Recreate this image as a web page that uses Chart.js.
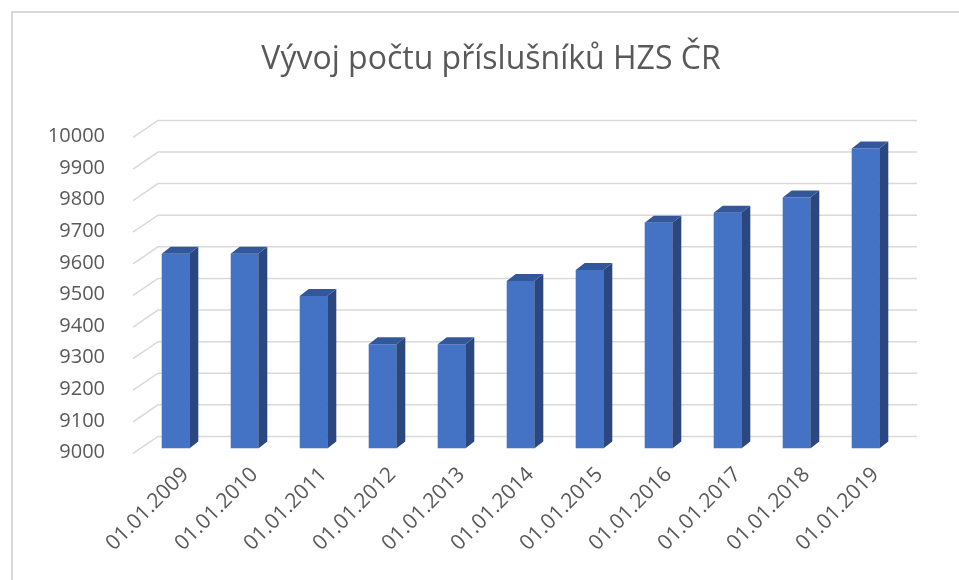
<!DOCTYPE html>
<html lang="cs">
<head>
    <meta charset="UTF-8">
    <title>Vývoj počtu příslušníků HZS ČR</title>
    <script src="https://cdn.jsdelivr.net/npm/chart.js"></script>
    <style>
        html, body {
            margin: 0;
            padding: 0;
            background: #ffffff;
        }

        .chart-box {
            width: 959px;
            height: 580px;
        }
    </style>
</head>
<body>

    <div class="chart-box">
        <canvas id="graphHzs" width="959" height="580"></canvas>
    </div>

    <script>
        // Data - stav k 1. lednu
        const dataLabels = ['01.01.2009', '01.01.2010', '01.01.2011', '01.01.2012', '01.01.2013', '01.01.2014',
                            '01.01.2015', '01.01.2016', '01.01.2017', '01.01.2018', '01.01.2019'];
        const prislusnici = [9616, 9616, 9482, 9330, 9330, 9530, 9565, 9714, 9746, 9794, 9949];
        const osaMin = 9000;
        const osaMax = 10000;
        const osaKrok = 100;

        const sedaMrizka = '#d9d9d9';
        const sedyText = '#595959';

        // posun zadni steny (pseudo 3D jako v Excelu)
        const zadX = 17, zadY = -12;
        // hloubka sloupce
        const hloubkaX = 9, hloubkaY = -7;

        // ramecek grafu + mrizka na zadni stene
        const pozadi3d = {
            id: 'pozadi3d',
            beforeDraw(chart) {
                const c = chart.ctx;
                c.save();
                c.fillStyle = '#ffffff';
                c.fillRect(0, 0, chart.width, chart.height);
                c.strokeStyle = sedaMrizka;
                c.lineWidth = 2;
                c.beginPath();
                c.moveTo(12, chart.height);
                c.lineTo(12, 12);
                c.lineTo(chart.width, 12);
                c.stroke();
                c.restore();
            },
            beforeDatasetsDraw(chart) {
                const c = chart.ctx;
                const area = chart.chartArea;
                const y = chart.scales.y;
                c.save();
                c.strokeStyle = sedaMrizka;
                c.lineWidth = 1.5;
                y.ticks.forEach(t => {
                    const py = y.getPixelForValue(t.value);
                    c.beginPath();
                    c.moveTo(area.left - 8, py + 5);
                    c.lineTo(area.left + zadX, py + zadY);
                    c.lineTo(area.right + zadX, py + zadY);
                    c.stroke();
                });
                c.restore();
            }
        };

        // bocni a horni stena sloupcu
        const sloupce3d = {
            id: 'sloupce3d',
            afterDatasetsDraw(chart) {
                const c = chart.ctx;
                const meta = chart.getDatasetMeta(0);
                c.save();
                meta.data.forEach(bar => {
                    const p = bar.getProps(['x', 'y', 'base', 'width'], true);
                    const l = p.x - p.width / 2;
                    const r = p.x + p.width / 2;
                    // bok
                    c.fillStyle = '#2b4780';
                    c.beginPath();
                    c.moveTo(r, p.y);
                    c.lineTo(r + hloubkaX, p.y + hloubkaY);
                    c.lineTo(r + hloubkaX, p.base + hloubkaY);
                    c.lineTo(r, p.base);
                    c.closePath();
                    c.fill();
                    // vrch
                    c.fillStyle = '#33579b';
                    c.beginPath();
                    c.moveTo(l, p.y);
                    c.lineTo(l + hloubkaX, p.y + hloubkaY);
                    c.lineTo(r + hloubkaX, p.y + hloubkaY);
                    c.lineTo(r, p.y);
                    c.closePath();
                    c.fill();
                });
                c.restore();
            }
        };

        const ctx = document.getElementById('graphHzs').getContext('2d');
        const graphHzs = new Chart(ctx, {
            type: 'bar',
            data: {
                labels: dataLabels,
                datasets: [{
                    label: 'Počet příslušníků',
                    data: prislusnici,
                    backgroundColor: '#4472c4',
                    borderWidth: 0,
                    barPercentage: 0.4,
                    categoryPercentage: 1.0,
                    base: osaMin
                }]
            },
            options: {
                responsive: false,
                animation: false,
                layout: {
                    padding: { top: 22, right: 0, bottom: 18, left: 23 }
                },
                plugins: {
                    legend: { display: false },
                    tooltip: { enabled: false },
                    title: {
                        display: true,
                        text: 'Vývoj počtu příslušníků HZS ČR',
                        color: sedyText,
                        font: { family: 'Open Sans', size: 32, weight: 'normal' },
                        padding: { top: 19, bottom: 53 }
                    }
                },
                scales: {
                    x: {
                        grid: { display: false },
                        border: { display: false },
                        ticks: {
                            color: sedyText,
                            font: { family: 'Open Sans', size: 21 },
                            autoSkip: false,
                            minRotation: 45,
                            maxRotation: 45,
                            padding: 6,
                            labelOffset: 10
                        }
                    },
                    y: {
                        min: osaMin,
                        max: osaMax,
                        grid: { display: false },
                        border: { display: false },
                        afterFit(scale) {
                            scale.width = 118;
                        },
                        ticks: {
                            stepSize: osaKrok,
                            color: sedyText,
                            font: { family: 'Open Sans', size: 20 },
                            padding: 28,
                            labelOffset: 4,
                            callback: v => String(v)
                        }
                    },
                    // prazdny pravy okraj, aby titulek sedel jako v originale
                    okraj: {
                        position: 'right',
                        grid: { display: false },
                        border: { display: false },
                        ticks: { display: false },
                        afterFit(scale) {
                            scale.width = 59;
                        }
                    }
                }
            },
            plugins: [pozadi3d, sloupce3d]
        });
    </script>

</body>
</html>
